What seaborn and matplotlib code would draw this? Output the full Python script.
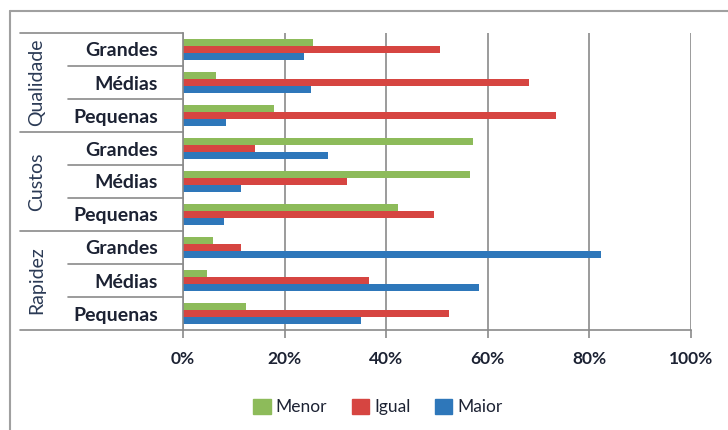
import pandas as pd
import matplotlib.pyplot as plt
import matplotlib.transforms as mtransforms
import seaborn as sns

# chart data
groups = ["Qualidade", "Custos", "Rapidez"]
sizes = ["Grandes", "Médias", "Pequenas"]
series = ["Menor", "Igual", "Maior"]
menor = [25.6, 6.5, 17.9, 57.0, 56.4, 42.4, 6.0, 4.8, 12.4]
igual = [50.5, 68.2, 73.5, 14.2, 32.3, 49.5, 11.5, 36.6, 52.4]
maior = [23.8, 25.1, 8.5, 28.5, 11.4, 8.1, 82.3, 58.2, 35.1]
x_ticks = [0, 20, 40, 60, 80, 100]

colors = ["#8DBB5A", "#D64541", "#2E77BA"]

sns.set_style("white")
plt.rcParams["font.family"] = ["Lato", "DejaVu Sans"]

# long format for seaborn
cats = [f"{g}|{s}" for g in groups for s in sizes]
rows = []
for name, vals in zip(series, [menor, igual, maior]):
    for c, v in zip(cats, vals):
        rows.append({"cat": c, "serie": name, "valor": v})
df = pd.DataFrame(rows)

# plot area in pixels: x 183..691, y 33..330
x0, x1, y0, y1 = 183, 691, 33, 330
W = x1 - x0
fig = plt.figure(figsize=(7.28, 4.30), dpi=100)
ax = fig.add_axes([x0 / 728, 1 - y1 / 430, W / 728, (y1 - y0) / 430])

sns.barplot(data=df, y="cat", x="valor", hue="serie", order=cats,
            hue_order=series, palette=colors, orient="h", width=0.66,
            gap=0.0, linewidth=0, saturation=1, legend=False, ax=ax)

ax.set_xlim(0, 100)
ax.set_ylim(8.5, -0.5)
ax.set_xticks(x_ticks)
ax.set_xticklabels([f"{t}%" for t in x_ticks], fontsize=12.5,
                   fontweight="bold", color="#1c2233")
ax.set_yticks(range(len(cats)))
ax.set_yticklabels(sizes * len(groups), fontsize=14, fontweight="bold",
                   color="#1c2233")
ax.tick_params(axis="y", length=0, pad=18)
ax.tick_params(axis="x", length=6, width=1.2, color="#8a8a8a", pad=9,
               direction="out", bottom=True)
ax.set_xlabel("")
ax.set_ylabel("")

ax.grid(axis="x", color="#8a8a8a", linewidth=1.2)
ax.set_axisbelow(True)
for s in ["top", "right"]:
    ax.spines[s].set_visible(False)
for s in ["left", "bottom"]:
    ax.spines[s].set_color("#8a8a8a")
    ax.spines[s].set_linewidth(1.2)

# table-like category separators on the left
tr = mtransforms.blended_transform_factory(ax.transAxes, ax.transData)
x_grp = (20 - x0) / W
x_cat = (68 - x0) / W
for b in [-0.5, 2.5, 5.5, 8.5]:
    ax.plot([x_grp, 0], [b, b], transform=tr, color="#8a8a8a", lw=1.2,
            clip_on=False)
for b in [0.5, 1.5, 3.5, 4.5, 6.5, 7.5]:
    ax.plot([x_cat, 0], [b, b], transform=tr, color="#8a8a8a", lw=1.2,
            clip_on=False)

# group labels
for i, g in enumerate(groups):
    ax.text((37 - x0) / W, i * 3 + 1, g, transform=tr, rotation=90,
            ha="center", va="center", fontsize=14, color="#2b3a55")

# legend
handles = [plt.Rectangle((0, 0), 1, 1, color=c) for c in colors]
fig.legend(handles, series, loc="center", bbox_to_anchor=(378 / 728, 1 - 407 / 430),
           ncol=3, frameon=False, handlelength=1.0, handleheight=1.0,
           handletextpad=0.3, columnspacing=1.4, fontsize=12.5,
           labelcolor="#1c2233")

# outer chart border (cut off at right and bottom)
fig.add_artist(plt.Line2D([10 / 728, 10 / 728], [0, 1 - 11 / 430],
                          transform=fig.transFigure, color="#a0a0a0", lw=1.5))
fig.add_artist(plt.Line2D([10 / 728, 1], [1 - 11 / 430, 1 - 11 / 430],
                          transform=fig.transFigure, color="#a0a0a0", lw=1.5))

fig.savefig("out.png", dpi=100)
